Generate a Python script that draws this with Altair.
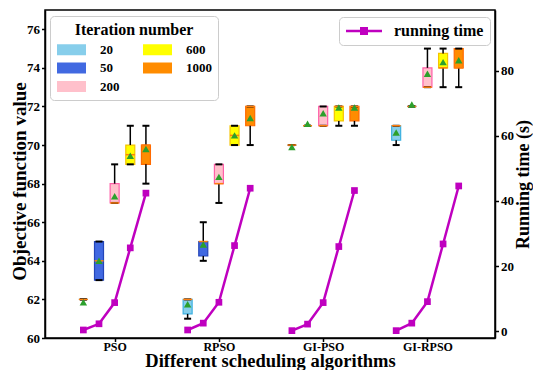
import altair as alt
import pandas as pd

algorithms = ["PSO", "RPSO", "GI-PSO", "GI-RPSO"]
iterations = ["20", "50", "200", "600", "1000"]

# box statistics per algorithm, one value per iteration number
w_low = {
    "PSO": [62, 63, 67, 69, 68],
    "RPSO": [61, 64, 67, 70, 70],
    "GI-PSO": [70, 71, 71, 71, 71],
    "GI-RPSO": [70, 72, 73, 73, 73],
}
q1 = {
    "PSO": [62, 63, 67, 69, 69],
    "RPSO": [61.25, 64.25, 68, 70, 71],
    "GI-PSO": [70, 71, 71, 71.25, 71.25],
    "GI-RPSO": [70.25, 72, 73, 74, 74],
}
median = {
    "PSO": [62, 64, 67, 69.5, 70],
    "RPSO": [62, 65, 68, 70.5, 72],
    "GI-PSO": [70, 71, 71, 72, 72],
    "GI-RPSO": [71, 72, 73, 74, 74],
}
q3 = {
    "PSO": [62, 65, 68, 70, 70],
    "RPSO": [62, 65, 69, 71, 72],
    "GI-PSO": [70, 71, 72, 72, 72],
    "GI-RPSO": [71, 72, 74, 74.75, 75],
}
w_high = {
    "PSO": [62, 65, 69, 71, 71],
    "RPSO": [62, 66, 69, 71, 72],
    "GI-PSO": [70, 71, 72, 72, 72],
    "GI-RPSO": [71, 72, 75, 75, 75],
}
mean = {
    "PSO": [61.85, 64.0, 67.35, 69.45, 69.8],
    "RPSO": [61.75, 64.85, 68.35, 70.5, 71.4],
    "GI-PSO": [69.9, 71.1, 71.65, 71.95, 71.95],
    "GI-RPSO": [70.65, 72.1, 73.7, 74.3, 74.4],
}
running_time = {
    "PSO": [0.4, 2.3, 8.8, 25.6, 42.4],
    "RPSO": [0.4, 2.5, 8.9, 26.3, 43.9],
    "GI-PSO": [0.2, 2.2, 8.8, 26.0, 43.2],
    "GI-RPSO": [0.2, 2.5, 9.1, 26.8, 44.6],
}

fill_colors = ["#87ceeb", "#4169e1", "#ffc0cb", "#ffff00", "#ff8c00"]
edge_colors = ["#3cb0e0", "#2445b8", "#ff5fa8", "#f5c400", "#ff6a00"]
offsets = [-0.3, -0.15, 0.0, 0.15, 0.3]

rows = []
for ai, a in enumerate(algorithms):
    for ii, it in enumerate(iterations):
        rows.append({
            "algo": a, "iter": it, "pos": ai + 1 + offsets[ii],
            "wlo": w_low[a][ii], "q1": q1[a][ii], "med": median[a][ii],
            "q3": q3[a][ii], "whi": w_high[a][ii], "mean": mean[a][ii],
            "time": running_time[a][ii], "series": "running time",
        })
df = pd.DataFrame(rows)

FONT = "Liberation Serif"
label_expr = "[" + ",".join(["''"] + [f"'{a}'" for a in algorithms]) + "][datum.value]"

x_enc = alt.X("pos:Q",
              scale=alt.Scale(domain=[0.38, 4.6], nice=False, zero=False),
              axis=alt.Axis(values=[1, 2, 3, 4], labelExpr=label_expr,
                            title="Different scheduling algorithms",
                            titleY=28.5, titleBaseline="alphabetic", titleFontSize=18.5,
                            labelPadding=0, labelFontSize=12))
y_scale = alt.Scale(domain=[60, 77], nice=False, zero=False)
y_axis = alt.Axis(values=list(range(60, 77, 2)), title="Objective function value",
                  titleX=-20, titleY=171, titleBaseline="alphabetic", titleFontSize=19)

base = alt.Chart(df)

boxes = base.mark_bar(size=9, strokeWidth=1.2).encode(
    x=x_enc,
    y=alt.Y("q1:Q", scale=y_scale, axis=y_axis),
    y2="q3:Q",
    fill=alt.Fill("iter:N", scale=alt.Scale(domain=iterations, range=fill_colors),
                  legend=alt.Legend(
                      title="Iteration number", orient="none", legendX=5, legendY=6,
                      columns=2, symbolType="M-2.64,-1H2.64V1H-2.64Z", symbolSize=121,
                      symbolOffset=9, labelOffset=22, rowPadding=4.5, columnPadding=22,
                      titleAnchor="middle", titleFontSize=16, labelFontSize=13,
                      padding=6, strokeColor="#cccccc", fillColor="white",
                      cornerRadius=4, symbolStrokeWidth=0, symbolOpacity=1)),
    stroke=alt.Stroke("iter:N", scale=alt.Scale(domain=iterations, range=edge_colors),
                      legend=None),
)
whisk_lo = base.mark_rule(color="black", strokeWidth=1.5).encode(
    x="pos:Q", y=alt.Y("wlo:Q"), y2="q1:Q")
whisk_hi = base.mark_rule(color="black", strokeWidth=1.5).encode(
    x="pos:Q", y=alt.Y("q3:Q"), y2="whi:Q")
cap_lo = base.mark_tick(orient="horizontal", size=7, thickness=2, color="black", opacity=1).encode(
    x="pos:Q", y="wlo:Q")
cap_hi = base.mark_tick(orient="horizontal", size=7, thickness=2, color="black", opacity=1).encode(
    x="pos:Q", y="whi:Q")
meds = base.mark_tick(orient="horizontal", size=9, thickness=1.5, color="#ff7f0e", opacity=1).encode(
    x="pos:Q", y="med:Q")
means = base.mark_point(shape="triangle-up", filled=True, size=55, color="#2ca02c", opacity=1).encode(
    x="pos:Q", y="mean:Q")

left = alt.layer(boxes, whisk_lo, whisk_hi, cap_lo, cap_hi, meds, means)

line = base.mark_line(strokeWidth=2.5,
                      point=alt.OverlayMarkDef(shape="square", filled=True, size=45, opacity=1)).encode(
    x="pos:Q",
    y=alt.Y("time:Q", scale=alt.Scale(domain=[-2.06, 98.6], nice=False, zero=False),
            axis=alt.Axis(values=[0, 20, 40, 60, 80], orient="right", title="Running time (s)",
                          titleAngle=270, titleBaseline="alphabetic", titleX=33, titleY=174,
                          titleFontSize=18)),
    detail="algo:N",
    color=alt.Color("series:N", scale=alt.Scale(domain=["running time"], range=["#bf00bf"]),
                    legend=alt.Legend(
                        title=None, orient="none", legendX=294, legendY=7,
                        symbolType="M-2.57,-0.18H2.57V0.18H-2.57Z M-0.57,-0.57H0.57V0.57H-0.57Z",
                        symbolSize=196, symbolOffset=11, labelOffset=22,
                        symbolFillColor="#bf00bf", symbolStrokeWidth=0,
                        labelFontSize=16, padding=6, strokeColor="#cccccc",
                        fillColor="white", cornerRadius=4)),
)

chart = alt.layer(left, line).resolve_scale(
    y="independent", color="independent", fill="independent", stroke="independent"
).properties(
    width=450, height=328,
    autosize=alt.AutoSizeParams(type="none"),
    padding={"left": 37, "top": 2, "right": 38, "bottom": 32},
).configure_axis(
    labelFont=FONT, labelFontWeight="bold", labelFontSize=13, labelColor="black",
    titleFont=FONT, titleFontWeight="bold", titleFontSize=19, titleColor="black",
    domainColor="black", domainWidth=1.5, tickColor="black", tickWidth=1.5,
    tickSize=3.5, grid=False,
).configure_legend(
    labelFont=FONT, labelFontWeight="bold", titleFont=FONT, titleFontWeight="bold",
    labelColor="black", titleColor="black",
).configure_view(stroke="black", strokeWidth=1.5)

chart.save("out.html", embed_options={"renderer": "svg", "actions": False})
